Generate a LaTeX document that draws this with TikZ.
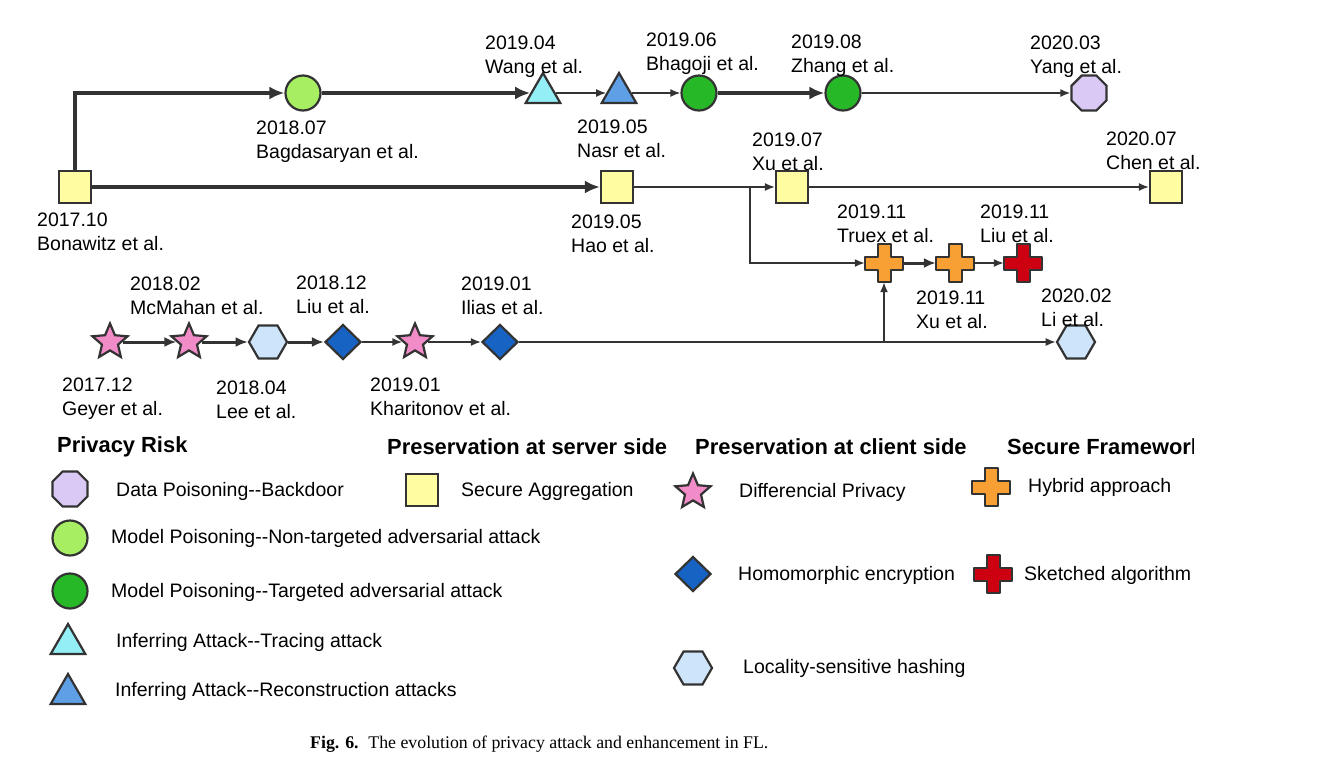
\documentclass[tikz,border=0pt]{standalone}
\usepackage{fontspec}
\setmainfont{Liberation Sans}
\newfontfamily\capfont{Liberation Serif}
\usepackage{tikz}
\usetikzlibrary{arrows.meta, positioning, shapes.geometric}
\usepackage{xcolor}

\definecolor{edgegray}{HTML}{333333}
\definecolor{aggyellow}{HTML}{FFFCA2}
\definecolor{ntgreen}{HTML}{A8EE62}
\definecolor{tgreen}{HTML}{27B827}
\definecolor{tracecyan}{HTML}{94EEF6}
\definecolor{reconblue}{HTML}{5E9FE6}
\definecolor{doorlilac}{HTML}{D9C9F4}
\definecolor{dppink}{HTML}{F28CC8}
\definecolor{lshblue}{HTML}{CDE4FA}
\definecolor{heblue}{HTML}{1763C3}
\definecolor{hyorange}{HTML}{F8A033}
\definecolor{skred}{HTML}{CC0010}

\newcommand{\lblfont}{\fontsize{19.5}{23.5}\selectfont}
\newcommand{\headfont}{\fontsize{21.9}{25}\selectfont\bfseries}
% plus sign drawn over an empty node
\newcommand{\plusmark}[2]{%
	\draw[draw=edgegray, line width=2pt, line join=round, fill=#2] (#1.center) ++(-6.5,-19) -- ++(13,0) -- ++(0,12.5) -- ++(12.5,0) -- ++(0,13) -- ++(-12.5,0) -- ++(0,12.5) -- ++(-13,0) -- ++(0,-12.5) -- ++(-12.5,0) -- ++(0,-13) -- ++(12.5,0) -- cycle;}

\begin{document}
\begin{tikzpicture}[x=1pt, y=-1pt,
		every node/.style={inner sep=0pt},
		shp/.style={draw=edgegray, line width=2.2pt},
		aggsq/.style={shp, rectangle, fill=aggyellow, minimum size=32pt},
		ntcirc/.style={shp, circle, fill=ntgreen, minimum size=35pt},
		tcirc/.style={shp, circle, fill=tgreen, minimum size=35pt},
		tracing/.style={shp, regular polygon, regular polygon sides=3, fill=tracecyan, minimum size=40pt},
		recon/.style={shp, regular polygon, regular polygon sides=3, fill=reconblue, minimum size=40pt},
		backdoor/.style={shp, regular polygon, regular polygon sides=8, fill=doorlilac, minimum size=38pt},
		dpstar/.style={shp, star, star points=5, star point ratio=2.2, fill=dppink, minimum size=37pt},
		lshhex/.style={shp, regular polygon, regular polygon sides=6, fill=lshblue, minimum size=38pt},
		hediam/.style={shp, diamond, fill=heblue, minimum width=36pt, minimum height=35pt},
		plusbox/.style={rectangle, minimum size=38pt},
		lbl/.style={anchor=north west, align=left, font=\lblfont},
		keytxt/.style={anchor=west, font=\lblfont},
		headtxt/.style={anchor=west, font=\headfont},
		major/.style={draw=edgegray, line width=4.4pt, -{Latex[length=15pt,width=13pt]}},
		middle/.style={draw=edgegray, line width=3pt, -{Latex[length=12pt,width=10pt]}},
		minor/.style={draw=edgegray, line width=1.6pt, -{Latex[length=10pt,width=8pt]}}]
	\useasboundingbox (0,0) rectangle (1340,772);

	% top row: attacks
	\node[aggsq] (bonawitz) at (75,187) {};
	\node[ntcirc] (bagdasaryan) at (303,93) {};
	\node[tracing] (wang) at (543,93) {};
	\node[recon] (nasr) at (619,93) {};
	\node[tcirc] (bhagoji) at (699,93) {};
	\node[tcirc] (zhang) at (843,93) {};
	\node[backdoor] (yang) at (1089,93) {};

	% middle row: server side and frameworks
	\node[aggsq] (hao) at (617,187) {};
	\node[aggsq] (xu) at (792,187) {};
	\node[aggsq] (chen) at (1166,187) {};
	\node[plusbox] (truex) at (884,263) {};
	\node[plusbox] (xu2) at (955,263) {};
	\node[plusbox] (liu2) at (1023,263) {};
	\plusmark{truex}{hyorange}
	\plusmark{xu2}{hyorange}
	\plusmark{liu2}{skred}

	% bottom row: client side
	\node[dpstar] (geyer) at (110,342) {};
	\node[dpstar] (mcmahan) at (189,342) {};
	\node[lshhex] (lee) at (268,342) {};
	\node[hediam] (liu) at (343,342) {};
	\node[dpstar] (kharitonov) at (415,342) {};
	\node[hediam] (ilias) at (500,342) {};
	\node[lshhex] (li) at (1076,342) {};

	\coordinate (split) at (750,187);
	\coordinate (join) at (884,342);

	% labels
	\node[lbl] (bonawitz-l) at (37,213) {2017.10\\Bonawitz et al.};
	\node[lbl] (bagdasaryan-l) at (256,121) {2018.07\\Bagdasaryan et al.};
	\node[lbl] (wang-l) at (485,36) {2019.04\\Wang et al.};
	\node[lbl] (nasr-l) at (577,120) {2019.05\\Nasr et al.};
	\node[lbl] (bhagoji-l) at (646,33) {2019.06\\Bhagoji et al.};
	\node[lbl] (zhang-l) at (791,35) {2019.08\\Zhang et al.};
	\node[lbl] (yang-l) at (1030,36) {2020.03\\Yang et al.};
	\node[lbl] (hao-l) at (571,215) {2019.05\\Hao et al.};
	\node[lbl] (xu-l) at (752,133) {2019.07\\Xu et al.};
	\node[lbl] (chen-l) at (1106,132) {2020.07\\Chen et al.};
	\node[lbl] (truex-l) at (837,205) {2019.11\\Truex et al.};
	\node[lbl] (xu2-l) at (916,291) {2019.11\\Xu et al.};
	\node[lbl] (liu2-l) at (980,205) {2019.11\\Liu et al.};
	\node[lbl] (geyer-l) at (62,378) {2017.12\\Geyer et al.};
	\node[lbl] (mcmahan-l) at (130,277) {2018.02\\McMahan et al.};
	\node[lbl] (lee-l) at (216,381) {2018.04\\Lee et al.};
	\node[lbl] (liu-l) at (296,276) {2018.12\\Liu et al.};
	\node[lbl] (kharitonov-l) at (370,378) {2019.01\\Kharitonov et al.};
	\node[lbl] (ilias-l) at (461,277) {2019.01\\Ilias et al.};
	\node[lbl] (li-l) at (1041,289) {2020.02\\Li et al.};

	% connections
	\draw[major] (bonawitz) |- (bagdasaryan);
	\draw (bagdasaryan) edge[major] (wang);
	\draw (wang) edge[minor] (nasr);
	\draw (nasr) edge[minor] (bhagoji);
	\draw (bhagoji) edge[major] (zhang);
	\draw (zhang) edge[minor] (yang);
	\draw (bonawitz) edge[major] (hao);
	\draw (hao) edge[minor] (xu);
	\draw (xu) edge[minor] (chen);
	\draw[minor] (split) |- (truex);
	\draw (truex) edge[middle] (xu2);
	\draw (xu2) edge[minor] (liu2);
	\draw (geyer) edge[middle] (mcmahan);
	\draw (mcmahan) edge[middle] (lee);
	\draw (lee) edge[middle] (liu);
	\draw (liu) edge[minor] (kharitonov);
	\draw (kharitonov) edge[minor] (ilias);
	\draw (ilias) edge[minor] (li);
	\draw (join) edge[minor] (truex);

	% legend
	\node[headtxt] (risk-h) at (57,447) {Privacy Risk};
	\node[headtxt] (server-h) at (387,447) {Preservation at server side};
	\node[headtxt] (client-h) at (695,447) {Preservation at client side};
	\begin{scope}
		\clip (1000,425) rectangle (1193,470);
		\node[headtxt] (frame-h) at (1007,447) {Secure Framework};
	\end{scope}

	\node[backdoor] (key-backdoor) at (70,489) {};
	\node[keytxt] (key-backdoor-t) at (116,491) {Data Poisoning-{}-Backdoor};
	\node[ntcirc] (key-nt) at (70,538) {};
	\node[keytxt] (key-nt-t) at (111,538) {Model Poisoning-{}-Non-targeted adversarial attack};
	\node[tcirc] (key-t) at (70,591) {};
	\node[keytxt] (key-t-t) at (111,592) {Model Poisoning-{}-Targeted adversarial attack};
	\node[tracing] (key-trace) at (68,644) {};
	\node[keytxt] (key-trace-t) at (116,642) {Inferring Attack-{}-Tracing attack};
	\node[recon] (key-recon) at (68,694) {};
	\node[keytxt] (key-recon-t) at (115,691) {Inferring Attack-{}-Reconstruction attacks};

	\node[aggsq] (key-agg) at (422,490) {};
	\node[keytxt] (key-agg-t) at (461,491) {Secure Aggregation};

	\node[dpstar] (key-dp) at (693,492) {};
	\node[keytxt] (key-dp-t) at (739,492) {Differencial Privacy};
	\node[hediam] (key-he) at (693,574) {};
	\node[keytxt] (key-he-t) at (738,575) {Homomorphic encryption};
	\node[lshhex] (key-lsh) at (693,668) {};
	\node[keytxt] (key-lsh-t) at (743,668) {Locality-sensitive hashing};

	\node[plusbox] (key-hy) at (991,487) {};
	\plusmark{key-hy}{hyorange}
	\node[keytxt] (key-hy-t) at (1028,487) {Hybrid approach};
	\node[plusbox] (key-sk) at (993,574) {};
	\plusmark{key-sk}{skred}
	\node[keytxt] (key-sk-t) at (1024,575) {Sketched algorithm};

	% caption
	\node[anchor=base west, font=\capfont\fontsize{17.8}{20}\selectfont] (caption) at (310,748) {\textbf{Fig. 6.}\hspace{0.55em}The evolution of privacy attack and enhancement in FL.};
\end{tikzpicture}
\end{document}
